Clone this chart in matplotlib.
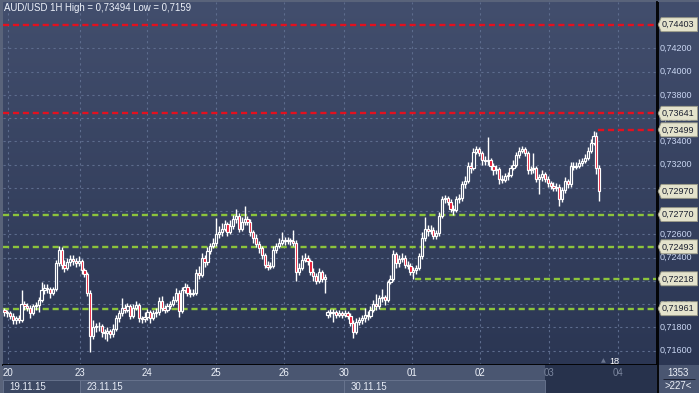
import numpy as np
import matplotlib.pyplot as plt
from matplotlib.patches import Polygon, Rectangle
from matplotlib.colors import LinearSegmentedColormap

# hourly AUD/USD candles, prices in pips (x 1e-4)
opens = [
    7195, 7193, 7192, 7190, 7186, 7188, 7186, 7200, 7198, 7197,
    7192, 7198, 7199, 7204, 7212, 7214, 7213, 7210, 7213, 7235,
    7247, 7234, 7231, 7236, 7239, 7237, 7235, 7237, 7229, 7226,
    7210, 7173, 7180, 7181, 7181, 7176, 7175, 7177, 7174, 7179,
    7188, 7192, 7197, 7195, 7198, 7190, 7197, 7199, 7188, 7187,
    7189, 7193, 7188, 7192, 7193, 7203, 7197, 7195, 7198, 7200,
    7204, 7210, 7194, 7212, 7215, 7210, 7209, 7210, 7227, 7225,
    7240, 7236, 7246, 7250, 7253, 7260, 7262, 7265, 7269, 7262,
    7267, 7273, 7276, 7265, 7271, 7273, 7271, 7262, 7257, 7252,
    7248, 7242, 7234, 7232, 7233, 7247, 7250, 7253, 7255, 7254,
    7255, 7254, 7253, 7228, 7231, 7238, 7240, 7237, 7228, 7224,
    7220, 7228, 7222, 7191, 7193, 7192, 7193, 7191, 7192, 7191,
    7192, 7190, 7184, 7176, 7185, 7186, 7188, 7191, 7190, 7195,
    7200, 7198, 7205, 7206, 7204, 7219, 7222, 7243, 7235, 7239,
    7240, 7234, 7233, 7228, 7229, 7231, 7241, 7257, 7265, 7263,
    7264, 7259, 7261, 7276, 7290, 7291, 7288, 7282, 7281, 7290,
    7291, 7303, 7306, 7319, 7317, 7331, 7333, 7330, 7324, 7323,
    7324, 7319, 7315, 7316, 7308, 7307, 7310, 7311, 7317, 7320,
    7328, 7332, 7333, 7330, 7315, 7316, 7317, 7308, 7309, 7312,
    7308, 7304, 7302, 7300, 7301, 7290, 7298, 7306, 7303, 7319,
    7318, 7319, 7321, 7323, 7326, 7332, 7339, 7345, 7317,
]
closes = [
    7193, 7192, 7190, 7186, 7188, 7186, 7200, 7198, 7197, 7192,
    7198, 7199, 7204, 7212, 7214, 7213, 7210, 7213, 7235, 7247,
    7234, 7231, 7236, 7239, 7237, 7235, 7237, 7229, 7226, 7210,
    7173, 7180, 7181, 7181, 7176, 7175, 7177, 7174, 7179, 7188,
    7192, 7197, 7195, 7198, 7190, 7197, 7199, 7188, 7187, 7189,
    7193, 7188, 7192, 7193, 7203, 7197, 7195, 7198, 7200, 7204,
    7210, 7194, 7212, 7215, 7210, 7209, 7210, 7227, 7225, 7240,
    7236, 7246, 7250, 7253, 7260, 7262, 7265, 7269, 7262, 7267,
    7273, 7276, 7265, 7271, 7273, 7271, 7262, 7257, 7252, 7248,
    7242, 7234, 7232, 7233, 7247, 7250, 7253, 7255, 7254, 7255,
    7254, 7253, 7228, 7231, 7238, 7240, 7237, 7228, 7224, 7220,
    7228, 7222, 7223, 7193, 7192, 7193, 7191, 7192, 7191, 7192,
    7190, 7184, 7176, 7185, 7186, 7188, 7191, 7190, 7195, 7200,
    7198, 7205, 7206, 7204, 7219, 7222, 7243, 7235, 7239, 7240,
    7234, 7233, 7228, 7229, 7231, 7241, 7257, 7265, 7263, 7264,
    7259, 7261, 7276, 7290, 7291, 7288, 7282, 7281, 7290, 7291,
    7303, 7306, 7319, 7317, 7331, 7333, 7330, 7324, 7323, 7324,
    7319, 7315, 7316, 7308, 7307, 7310, 7311, 7317, 7320, 7328,
    7332, 7333, 7330, 7315, 7316, 7317, 7308, 7309, 7312, 7308,
    7304, 7302, 7300, 7301, 7290, 7298, 7306, 7303, 7319, 7318,
    7319, 7321, 7323, 7326, 7332, 7339, 7345, 7317, 7297,
]
highs = [
    7197, 7195, 7194, 7192, 7190, 7191, 7212, 7203, 7201, 7199,
    7200, 7202, 7206, 7219, 7217, 7217, 7215, 7215, 7238, 7250,
    7249, 7238, 7240, 7242, 7242, 7240, 7241, 7239, 7231, 7228,
    7212, 7186, 7184, 7185, 7183, 7179, 7180, 7179, 7183, 7191,
    7195, 7205, 7200, 7201, 7200, 7200, 7203, 7201, 7190, 7193,
    7196, 7195, 7195, 7197, 7206, 7207, 7199, 7201, 7203, 7207,
    7214, 7212, 7215, 7218, 7217, 7213, 7213, 7230, 7233, 7244,
    7242, 7249, 7253, 7257, 7274, 7267, 7270, 7272, 7271, 7272,
    7277, 7282, 7278, 7275, 7284, 7276, 7273, 7264, 7260, 7254,
    7250, 7244, 7237, 7236, 7250, 7253, 7257, 7262, 7258, 7258,
    7257, 7264, 7255, 7235, 7242, 7244, 7242, 7239, 7231, 7227,
    7231, 7229, 7226, 7195, 7196, 7196, 7195, 7195, 7194, 7195,
    7194, 7192, 7186, 7188, 7189, 7191, 7197, 7194, 7198, 7204,
    7209, 7208, 7213, 7208, 7221, 7225, 7247, 7245, 7242, 7244,
    7242, 7237, 7235, 7232, 7234, 7244, 7262, 7275, 7268, 7268,
    7266, 7264, 7279, 7293, 7294, 7293, 7290, 7285, 7293, 7295,
    7306, 7310, 7322, 7322, 7334, 7336, 7335, 7332, 7327, 7344,
    7326, 7321, 7320, 7318, 7311, 7313, 7314, 7320, 7324, 7331,
    7335, 7336, 7335, 7332, 7319, 7330, 7319, 7312, 7315, 7314,
    7310, 7306, 7305, 7304, 7303, 7301, 7309, 7308, 7322, 7322,
    7322, 7325, 7326, 7329, 7335, 7342, 7349, 7348, 7320,
]
lows = [
    7190, 7189, 7187, 7183, 7183, 7184, 7185, 7195, 7194, 7188,
    7191, 7195, 7193, 7202, 7209, 7210, 7205, 7208, 7211, 7233,
    7230, 7228, 7229, 7233, 7234, 7232, 7233, 7226, 7223, 7207,
    7159, 7170, 7176, 7177, 7172, 7170, 7168, 7171, 7172, 7177,
    7185, 7190, 7192, 7193, 7187, 7188, 7195, 7185, 7184, 7185,
    7186, 7184, 7186, 7189, 7191, 7194, 7192, 7193, 7196, 7198,
    7202, 7189, 7192, 7210, 7207, 7206, 7207, 7208, 7222, 7223,
    7232, 7234, 7243, 7248, 7250, 7257, 7259, 7263, 7259, 7260,
    7265, 7270, 7262, 7263, 7268, 7268, 7259, 7253, 7249, 7244,
    7239, 7231, 7229, 7230, 7231, 7244, 7248, 7251, 7251, 7252,
    7251, 7250, 7220, 7225, 7229, 7236, 7234, 7225, 7220, 7217,
    7218, 7219, 7210, 7188, 7189, 7185, 7188, 7189, 7188, 7189,
    7187, 7181, 7171, 7174, 7182, 7183, 7185, 7186, 7188, 7193,
    7195, 7196, 7202, 7199, 7202, 7217, 7220, 7231, 7232, 7236,
    7231, 7230, 7225, 7222, 7226, 7229, 7239, 7254, 7259, 7260,
    7256, 7256, 7259, 7274, 7287, 7285, 7279, 7277, 7279, 7287,
    7289, 7300, 7304, 7313, 7315, 7329, 7327, 7320, 7320, 7320,
    7315, 7311, 7312, 7303, 7304, 7305, 7307, 7309, 7315, 7318,
    7326, 7330, 7327, 7312, 7312, 7313, 7305, 7295, 7306, 7305,
    7301, 7299, 7297, 7297, 7284, 7288, 7296, 7300, 7301, 7315,
    7316, 7317, 7319, 7321, 7324, 7330, 7337, 7312, 7289,
]

red_levels = [0.74403, 0.73641]
peak_level = 0.73499
green_levels = [0.72770, 0.72493, 0.71961]
session_level = 0.72218
last_price = 0.72970

grid_prices = [0.716, 0.718, 0.720, 0.722, 0.724, 0.726, 0.728,
               0.730, 0.732, 0.734, 0.736, 0.738, 0.740, 0.742]
# 0,72800 and 0,72200 sit fully under the level boxes, so no label
label_prices = [0.716, 0.718, 0.720, 0.724, 0.726,
                0.730, 0.732, 0.734, 0.736, 0.738, 0.740, 0.742]
day_labels = ["20", "23", "24", "25", "26", "30", "01", "02", "03", "04"]
day_pos = [1.2, 26.4, 49.8, 74.0, 97.8, 118.7, 142.5, 166.3, 190.4, 214.5]
date_labels = ["19.11.15", "23.11.15", "30.11.15"]
date_pos = [-0.5, 26.4, 118.7]

o = np.array(opens) / 1e4
c = np.array(closes) / 1e4
hi = np.array(highs) / 1e4
lo = np.array(lows) / 1e4
idx = np.arange(len(o))

W, H = 699, 393
FONT = "Liberation Sans"
BG_TOP = "#424e6d"
BG_BOT = "#2b3653"
TXT = "#c9d6f2"


def fmt(p):
    return ("%.5f" % p).replace(".", ",")


fig = plt.figure(figsize=(W / 100, H / 100), dpi=100)
fig.patch.set_facecolor("#59637a")

XMIN, XMAX = -0.5, 228.2
YMIN, YMAX = 0.71477, 0.74598

grad_cmap = LinearSegmentedColormap.from_list("bg", [BG_BOT, BG_TOP])
grad = np.linspace(0, 1, 256).reshape(-1, 1)

# main price panel
ax = fig.add_axes([3 / W, 28 / H, 654 / W, 363 / H])
ax.imshow(grad, extent=[XMIN, XMAX, YMIN, YMAX], origin="lower",
          aspect="auto", cmap=grad_cmap, zorder=0)
ax.set_xlim(XMIN, XMAX)
ax.set_ylim(YMIN, YMAX)
for p in grid_prices:
    ax.axhline(p, color="#5d6c8d", lw=0.8, ls=(0, (2, 3)), zorder=1)
for d in day_pos:
    ax.axvline(d, color="#5d6c8d", lw=0.8, ls=(0, (2, 3)), zorder=1)

for p in red_levels:
    ax.axhline(p, color="#e3101f", lw=1.7, ls=(0, (2.6, 1.6)), zorder=2)
ax.hlines(peak_level, 207.5, XMAX, color="#e3101f", lw=1.7,
          ls=(0, (2.6, 1.6)), zorder=2)
for p in green_levels:
    ax.axhline(p, color="#8cc43c", lw=1.7, ls=(0, (2.6, 1.6)), zorder=2)
ax.hlines(session_level, 143.5, XMAX, color="#8cc43c", lw=1.7,
          ls=(0, (2.6, 1.6)), zorder=2)

# candles
ax.vlines(idx, lo, hi, color="white", lw=1.0, zorder=3)
down = c < o
body_lo = np.minimum(o, c)
body_h = np.maximum(np.abs(c - o), 0.00003)
ax.bar(idx, body_h, bottom=body_lo, width=0.78,
       color=np.where(down, "#e5102b", "#39445f"),
       edgecolor="white", linewidth=0.85, zorder=4)

ax.text(0.002, 0.9985, "AUD/USD 1H High = 0,73494 Low = 0,7159",
        transform=ax.transAxes, ha="left", va="top",
        color="#eef2fa", fontsize=6.9, family=FONT, zorder=6)
ax.text(209.6, 0.7151, "\u25b2", color="#6b7690", fontsize=4.5,
        ha="center", va="center", zorder=6)
ax.text(213.2, 0.7151, "18", color="white", fontsize=6.5, family=FONT,
        ha="center", va="center", zorder=6)

ax.set_xticks([])
ax.set_yticks([])
for s in ["top", "left"]:
    ax.spines[s].set_visible(False)
for s in ["bottom", "right"]:
    ax.spines[s].set_color("black")
    ax.spines[s].set_linewidth(1.3)

# right price axis
ax2 = fig.add_axes([657 / W, 28 / H, 42 / W, 363 / H])
ax2.imshow(grad, extent=[0, 42, YMIN, YMAX], origin="lower",
           aspect="auto", cmap=grad_cmap, zorder=0)
ax2.set_xlim(0, 42)
ax2.set_ylim(YMIN, YMAX)
ax2.axis("off")
ax2.axvline(0.5, color="black", lw=1.3)
for p in label_prices:
    ax2.text(2.2, p, fmt(p), color=TXT, fontsize=6.5, family=FONT,
             ha="left", va="center")

hh = 0.00060
boxed = red_levels + [peak_level, last_price] + green_levels + [session_level]
for p in boxed:
    poly = Polygon([(1.2, p), (4.2, p + hh), (40.5, p + hh),
                    (40.5, p - hh), (4.2, p - hh)], closed=True,
                   facecolor="#e4e3cc", edgecolor="#9a9a86", lw=0.6, zorder=3)
    ax2.add_patch(poly)
    ax2.text(5.0, p, fmt(p), color="#1b2030", fontsize=6.5, family=FONT,
             ha="left", va="center", zorder=4)

# bottom time axis
ax3 = fig.add_axes([3 / W, 0, 654 / W, 28 / H], sharex=ax)
ax3.set_ylim(28, 0)
ax3.set_facecolor("#4a5671")
ax3.add_patch(Rectangle((189.0, 0), XMAX - 189.0, 28, facecolor="#27324c",
                        edgecolor="none", zorder=1))
edges = date_pos + [189.0]
for k, lab in enumerate(date_labels):
    fc = "#3c4863" if k == 0 else "#4e5b76"
    ax3.add_patch(Rectangle((edges[k], 14.5), edges[k + 1] - edges[k], 13.5,
                            facecolor=fc, edgecolor="#6a7690", lw=0.6,
                            zorder=2))
    ax3.text(edges[k] + 2.2, 21.5, lab, color="#e8edf7", fontsize=6.9,
             family=FONT, ha="left", va="center", zorder=3)
for d, lab in zip(day_pos, day_labels):
    col = "#7c879f" if d > 189 else "#eef2fa"
    ax3.text(d, 7.5, lab, color=col, fontsize=6.9, family=FONT,
             ha="center", va="center", zorder=3)
ax3.set_xticks([])
ax3.set_yticks([])
for s in ax3.spines.values():
    s.set_visible(False)

# corner box
ax4 = fig.add_axes([657 / W, 0, 42 / W, 28 / H])
ax4.set_xlim(0, 42)
ax4.set_ylim(28, 0)
ax4.set_facecolor("#4a5671")
ax4.axvline(0.5, color="black", lw=1.3)
ax4.hlines(14, 6, 38, color="#1b2030", lw=0.7)
ax4.text(21, 8, "1353", color="#eef2fa", fontsize=6.9, family=FONT,
         ha="center", va="center")
ax4.text(21, 21, ">227<", color="#eef2fa", fontsize=6.9, family=FONT,
         ha="center", va="center")
ax4.set_xticks([])
ax4.set_yticks([])
for s in ax4.spines.values():
    s.set_visible(False)

fig.savefig("out.png", dpi=100, facecolor=fig.get_facecolor())
